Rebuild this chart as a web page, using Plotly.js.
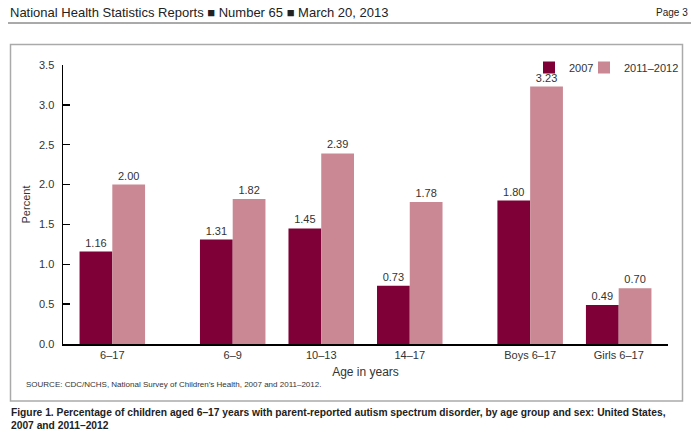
<!DOCTYPE html>
<html>
<head>
<meta charset="utf-8">
<script src="https://cdn.plot.ly/plotly-3.0.1.min.js"></script>
<style>html,body{margin:0;padding:0;background:#fff;}#chart{width:700px;height:444px;}</style>
</head>
<body>
<div id="chart"></div>
<script>
// ---- data ----
const categories = ["6–17", "6–9", "10–13", "14–17", "Boys 6–17", "Girls 6–17"];
const values2007 = [1.16, 1.31, 1.45, 0.73, 1.80, 0.49];
const values2011 = [2.00, 1.82, 2.39, 1.78, 3.23, 0.70];
const seriesNames = ["2007", "2011–2012"];
const yTickVals = [0.0, 0.5, 1.0, 1.5, 2.0, 2.5, 3.0, 3.5];

// ---- layout helpers: extra gap after the "all" group and before the sex groups ----
const gapAfter = new Set([0, 3]);
const extraGap = 0.36;
const xPos = [];
let cur = 0;
categories.forEach((c, i) => { xPos.push(cur); cur += 1 + (gapAfter.has(i) ? extraGap : 0); });

// plot-area geometry (pixels) used to place page decorations
const W = 700, H = 444, M = {l: 63, r: 32, t: 65, b: 100, autoexpand: false};
const pw = W - M.l - M.r, ph = H - M.t - M.b;
const px = x => (x - M.l) / pw;
const py = y => (H - M.b - y) / ph;

const dark = "#7f0036", pink = "#c98893";
const FAM = "Liberation Sans, Arial, sans-serif";
const tickFont = {family: FAM, size: 11, color: "#333"};

const traces = [
  {type: "bar", name: seriesNames[0], x: xPos, y: values2007, marker: {color: dark},
   text: values2007.map(v => v.toFixed(2)), textposition: "outside", cliponaxis: false,
   textfont: tickFont, hoverinfo: "skip", legend: "legend"},
  {type: "bar", name: seriesNames[1], x: xPos, y: values2011, marker: {color: pink},
   text: values2011.map(v => v.toFixed(2)), textposition: "outside", cliponaxis: false,
   textfont: tickFont, hoverinfo: "skip", legend: "legend2"}
];

const xr0 = -0.557, xr1 = xPos[xPos.length - 1] + 0.557;

const legendBase = {orientation: "h", xanchor: "left", y: py(53), yanchor: "top",
  font: {family: FAM, size: 11, color: "#333"}, bgcolor: "rgba(0,0,0,0)", itemwidth: 30};

const layout = {
  width: W, height: H,
  margin: M,
  paper_bgcolor: "#fff", plot_bgcolor: "#fff",
  font: {family: FAM, color: "#333"},
  barmode: "group", bargap: 0.26, bargroupgap: 0,
  showlegend: true,
  legend: Object.assign({}, legendBase, {x: px(529)}),
  legend2: Object.assign({}, legendBase, {x: px(584)}),
  xaxis: {
    range: [xr0, xr1], tickvals: xPos, ticktext: categories,
    showline: true, linecolor: "#000", linewidth: 1.5, ticks: "", showgrid: false, zeroline: false,
    tickfont: tickFont, fixedrange: true, automargin: false,
    title: {text: "Age in years", font: {family: FAM, size: 12, color: "#333"}, standoff: 8}
  },
  yaxis: {
    range: [0, 3.5], tickvals: yTickVals, tickformat: ".1f",
    showline: true, linecolor: "#000", linewidth: 1.5,
    ticks: "inside", ticklen: 7, tickwidth: 1.5, tickcolor: "#000",
    ticklabelstandoff: 5, automargin: false,
    showgrid: false, zeroline: false, tickfont: tickFont, fixedrange: true,
    title: {text: "Percent", font: {family: FAM, size: 11, color: "#333"}, standoff: 6}
  },
  shapes: [
    // header rule
    {type: "line", xref: "paper", yref: "paper", x0: px(8), x1: px(691), y0: py(23), y1: py(23),
     line: {color: "#555", width: 1}},
    // figure frame
    {type: "rect", xref: "paper", yref: "paper", x0: px(10.5), x1: px(682.5), y0: py(401), y1: py(44.5),
     line: {color: "#aaa", width: 1.5}, fillcolor: "rgba(0,0,0,0)", layer: "below"}
  ],
  annotations: [
    {xref: "paper", yref: "paper", x: px(8), y: py(12), xanchor: "left", yanchor: "middle", showarrow: false,
     text: "National Health Statistics Reports ■ Number 65 ■ March 20, 2013",
     font: {family: FAM, size: 13, color: "#222"}},
    {xref: "paper", yref: "paper", x: px(690), y: py(12), xanchor: "right", yanchor: "middle", showarrow: false,
     text: "Page 3",
     font: {family: FAM, size: 10, color: "#222"}},
    {xref: "paper", yref: "paper", x: px(24), y: py(384), xanchor: "left", yanchor: "middle", showarrow: false,
     text: "SOURCE: CDC/NCHS, National Survey of Children’s Health, 2007 and 2011–2012.",
     font: {family: FAM, size: 8, color: "#333"}},
    {xref: "paper", yref: "paper", x: px(9), y: py(405), xanchor: "left", yanchor: "top", showarrow: false, align: "left",
     text: "<b>Figure 1. Percentage of children aged 6–17 years with parent-reported autism spectrum disorder, by age group and sex: United States,<br>2007 and 2011–2012</b>",
     font: {family: FAM, size: 10.25, color: "#222"}}
  ]
};

Plotly.newPlot("chart", traces, layout, {staticPlot: true, displayModeBar: false});
</script>
</body>
</html>
